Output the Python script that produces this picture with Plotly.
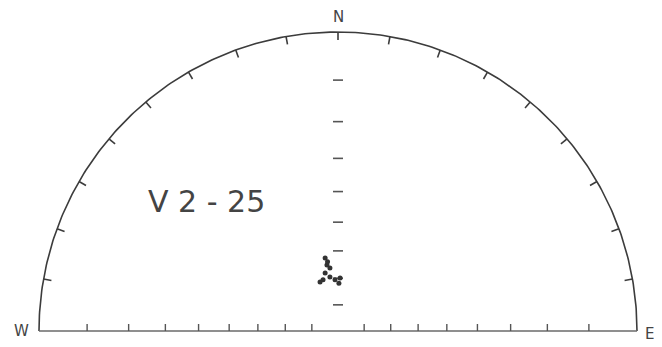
"""
Upper half of a Wulff (stereographic) net with a small cluster of poles, label V2-25
"""

import numpy as np
import plotly.graph_objects as go

# tick angles (degrees) every 10 deg
ARC_TICKS_DEG = [10, 20, 30, 40, 50, 60, 70, 80, 90, 100, 110, 120, 130, 140, 150, 160, 170]
DIAMETER_TICKS_DEG = [10, 20, 30, 40, 50, 60, 70, 80]   # dip steps along the E-W line
CENTER_TICKS_DEG = [10, 20, 30, 40, 50, 60, 70, 80]     # dip steps along the N line

# plotted poles, projected coordinates (unit radius)
pole_x = [-0.043, -0.037, -0.027, -0.043, -0.027, -0.060, -0.050, -0.010, 0.007, 0.003, -0.035]
pole_y = [0.244, 0.221, 0.211, 0.194, 0.181, 0.164, 0.171, 0.171, 0.177, 0.160, 0.232]

LABEL = 'V 2 - 25'
INK = '#3c3c3c'
PAGE_OFF = 8                     # default body margin of the html page
W, H = 662 - PAGE_OFF, 347 - PAGE_OFF
CX, CY, R = 338 - PAGE_OFF, 331 - PAGE_OFF, 299   # pixel centre and radius


def wulff(dip_deg):
    """Stereographic radius for a line at angle dip_deg from the primitive"""
    return np.tan(np.radians(dip_deg) / 2)


fig = go.Figure()

# primitive half circle
theta = np.linspace(0, np.pi, 300)
fig.add_trace(go.Scatter(x=np.cos(theta), y=np.sin(theta), mode='lines',
                         line=dict(color=INK, width=1.6), hoverinfo='skip'))

# E-W diameter
fig.add_trace(go.Scatter(x=[-1, 1], y=[0, 0], mode='lines',
                         line=dict(color='#6a6a6a', width=1.3), hoverinfo='skip'))

# ticks on the primitive, pointing inward
tick_len = 8 / R
tx, ty = [], []
for a in ARC_TICKS_DEG:
    t = np.radians(a)
    tx += [np.cos(t), (1 - tick_len) * np.cos(t), None]
    ty += [np.sin(t), (1 - tick_len) * np.sin(t), None]
fig.add_trace(go.Scatter(x=tx, y=ty, mode='lines',
                         line=dict(color=INK, width=1.6), hoverinfo='skip'))

# ticks on the E-W diameter, pointing up
bx, by = [], []
for d in DIAMETER_TICKS_DEG:
    r = wulff(90 - d)
    for s in (-1, 1):
        bx += [s * r, s * r, None]
        by += [0, 7 / R, None]
fig.add_trace(go.Scatter(x=bx, y=by, mode='lines',
                         line=dict(color='#555555', width=1.4), hoverinfo='skip'))

# short dashes along the N line
cx_, cy_ = [], []
for d in CENTER_TICKS_DEG:
    r = wulff(90 - d)
    cx_ += [-5 / R, 5 / R, None]
    cy_ += [r, r, None]
fig.add_trace(go.Scatter(x=cx_, y=cy_, mode='lines',
                         line=dict(color='#555555', width=1.6), hoverinfo='skip'))

# poles
fig.add_trace(go.Scatter(x=pole_x, y=pole_y, mode='markers',
                         marker=dict(size=5, color='#333333', line=dict(width=0))))

font = dict(family='DejaVu Sans', color='#444444')
fig.add_annotation(x=0, y=1 + 4 / R, text='N', showarrow=False, yanchor='bottom',
                   font=dict(size=15, **font))
fig.add_annotation(x=-1 - 8 / R, y=0, text='W', showarrow=False, xanchor='right',
                   yanchor='middle', font=dict(size=15, **font))
fig.add_annotation(x=1 + 6 / R, y=-3 / R, text='E', showarrow=False, xanchor='left',
                   yanchor='middle', font=dict(size=15, **font))
fig.add_annotation(x=-132 / R, y=130 / R, text=LABEL, showarrow=False,
                   font=dict(size=30, **font))

fig.update_layout(
    width=W, height=H,
    margin=dict(l=0, r=0, t=0, b=0),
    plot_bgcolor='white', paper_bgcolor='white',
    showlegend=False,
    xaxis=dict(range=[-CX / R, (W - CX) / R], visible=False, fixedrange=True),
    yaxis=dict(range=[-(H - CY) / R, CY / R], visible=False, fixedrange=True),
)

fig.write_html('out.html')
